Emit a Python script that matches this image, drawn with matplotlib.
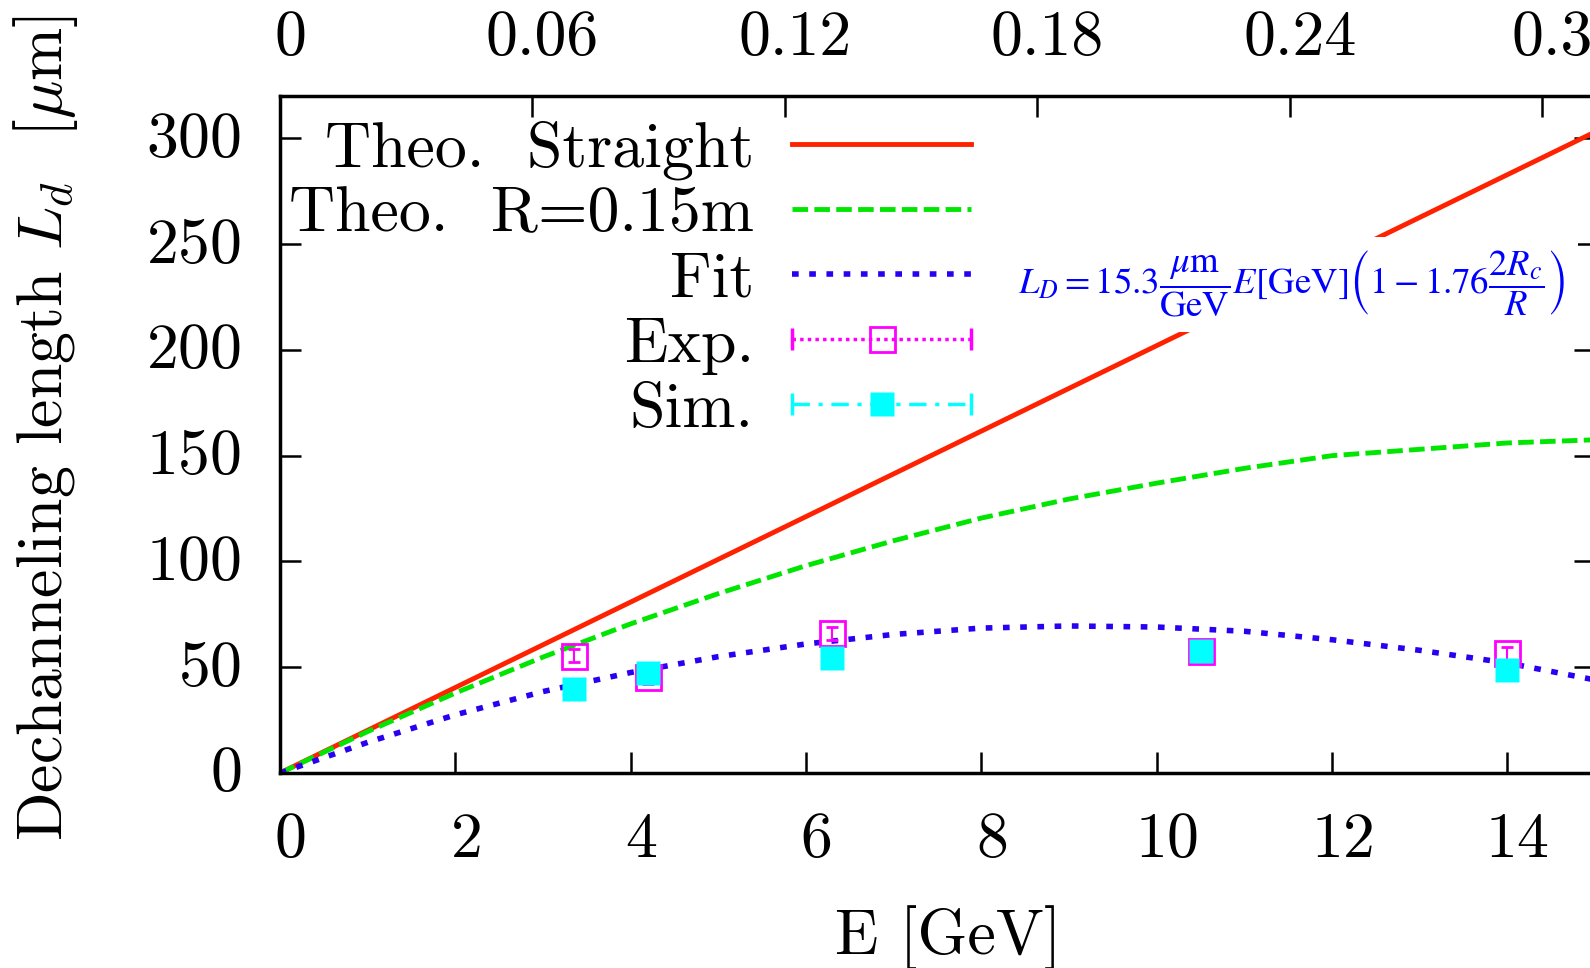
import numpy as np
import matplotlib
matplotlib.use('Agg')
import matplotlib.pyplot as plt
import matplotlib.transforms as mtransforms
from matplotlib.lines import Line2D
from matplotlib.legend_handler import HandlerLine2D, HandlerTuple

plt.rcParams['font.family'] = ['cmr10', 'DejaVu Serif']
plt.rcParams['mathtext.fontset'] = 'cm'
plt.rcParams['axes.formatter.use_mathtext'] = True

# data
E_straight = [0, 15]
L_straight = [0, 303]

E_curve = [0, 1, 2, 3, 4, 5, 6, 7, 8, 9, 10, 11, 12, 13, 14, 15]
L_theo_R = [0, 19.6, 37.8, 54.8, 70.5, 84.8, 98, 109.8, 120.5, 129.5, 137, 144, 150, 153, 156, 157.5]
L_fit = [0, 14.5, 27.5, 38.5, 47.5, 55, 61, 65.5, 68.5, 69.5, 69, 67, 63, 58, 52, 44]

E_points = [3.35, 4.2, 6.3, 10.5, 14.0]
L_exp = [55.5, 45.3, 66, 57.5, 56.5]
L_exp_err = [3, 3, 3, 3, 3]
L_sim = [39.5, 47.5, 54.5, 57.5, 48.5]

x_ticks = [0, 2, 4, 6, 8, 10, 12, 14]
y_ticks = [0, 50, 100, 150, 200, 250, 300]
top_ticks = [0, 0.06, 0.12, 0.18, 0.24, 0.3]
top_labels = ['0', '0.06', '0.12', '0.18', '0.24', '0.3']

red = '#ff2200'
green = '#00e600'
blue = '#2a00f0'
magenta = '#ff00ff'
cyan = '#00ffff'
fs = 46

fig = plt.figure(figsize=(15.9, 9.68), dpi=100)
ax = fig.add_axes([280 / 1590, 195 / 968, 1315 / 1590, 677 / 968])

ax.plot(E_straight, L_straight, color=red, lw=3.5, solid_capstyle='butt')
ax.plot(E_curve, L_theo_R, color=green, lw=3.5, ls=(0, (3.2, 1.3)))
ax.plot(E_curve, L_fit, color=blue, lw=4, ls=(0, (1.2, 1.9)))
ax.errorbar(E_points, L_exp, yerr=L_exp_err, fmt='s', ms=18, mfc='none', mec=magenta,
            mew=2, ecolor=magenta, elinewidth=1.5, capsize=4, zorder=4)
ax.plot(E_points, L_sim, ls='none', marker='s', ms=17, mfc=cyan, mec='none', zorder=5)

ax.set_xlim(0, 15)
ax.set_ylim(0, 320)
ax.set_xticks(x_ticks)
ax.set_yticks(y_ticks)
ax.tick_params(direction='in', length=15, width=1.8, pad=28, labelsize=fs,
               right=True, top=False)
for s in ax.spines.values():
    s.set_linewidth(2.5)

ax2 = ax.twiny()
ax2.set_xlim(0, 0.3125)
ax2.set_xticks(top_ticks)
ax2.set_xticklabels(top_labels)
ax2.tick_params(direction='in', length=15, width=1.8, pad=20, labelsize=fs)

# gnuplot puts tick labels a little to the right of the ticks
shift_x = mtransforms.ScaledTranslation(10 / 100, 0, fig.dpi_scale_trans)
shift_y = mtransforms.ScaledTranslation(0, 4 / 100, fig.dpi_scale_trans)
for lab in ax.get_xticklabels() + ax2.get_xticklabels():
    lab.set_transform(lab.get_transform() + shift_x)
for lab in ax.get_yticklabels():
    lab.set_transform(lab.get_transform() + shift_y)

ax.set_xlabel('E [GeV]', fontsize=fs, va='center')
ax.xaxis.set_label_coords(0.508, -0.243)
ax.set_ylabel(r'Dechanneling length $L_d$  [$\mu$m]', fontsize=fs, va='center')
ax.yaxis.set_label_coords(-0.178, 0.51)

# formula box
ax.text(8.42, 231, r'$L_D = 15.3\dfrac{\mu\mathrm{m}}{\mathrm{GeV}}E[\mathrm{GeV}]\left(1-1.76\dfrac{2R_c}{R}\right)$',
        color='blue', fontsize=26.5, math_fontfamily='stix', ha='left', va='center',
        bbox=dict(fc='white', ec='none', pad=9), zorder=6)

# legend proxies
h_str = Line2D([], [], color=red, lw=3.5)
h_R = Line2D([], [], color=green, lw=3.5, ls=(0, (3.2, 1.3)))
h_fit = Line2D([], [], color=blue, lw=4, ls=(0, (1.2, 1.9)))
exp_line = Line2D([], [], color=magenta, lw=2.5, ls=(0, (1, 1.2)), marker='|', ms=16, mew=2.5)
exp_box = Line2D([], [], ls='none', marker='s', ms=18, mfc='none', mec=magenta, mew=2)
sim_line = Line2D([], [], color=cyan, lw=2.5, ls=(0, (5, 2.5, 1.2, 2.5)), marker='|', ms=16, mew=2.5)
sim_box = Line2D([], [], ls='none', marker='s', ms=17, mfc=cyan, mec='none')

hm = {exp_line: HandlerLine2D(numpoints=2, marker_pad=0),
      sim_line: HandlerLine2D(numpoints=2, marker_pad=0),
      exp_box: HandlerLine2D(numpoints=1),
      sim_box: HandlerLine2D(numpoints=1)}
hm[tuple] = HandlerTuple(ndivide=1, pad=0)

leg = ax.legend([h_str, h_R, h_fit, (exp_line, exp_box), (sim_line, sim_box)],
                ['Theo.  Straight', 'Theo.  R=0.15m', 'Fit', 'Exp.', 'Sim.'],
                handler_map=hm, markerfirst=False, frameon=False, fontsize=fs,
                handlelength=2.8, handletextpad=0.6, labelspacing=0.11, borderpad=0,
                loc='upper right', bbox_to_anchor=(1003 / 1590, 0.909),
                bbox_transform=fig.transFigure)

fig.savefig('out.png', dpi=100)
